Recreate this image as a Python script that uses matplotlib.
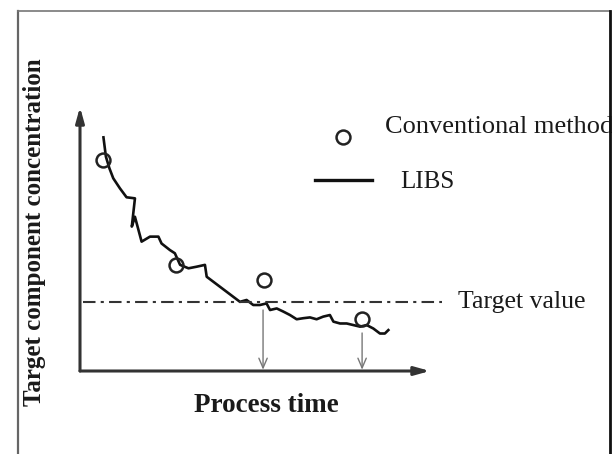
import matplotlib
matplotlib.use("Agg")
import matplotlib.pyplot as plt
from matplotlib.lines import Line2D

plt.rcParams["font.family"] = ["Liberation Serif", "DejaVu Serif"]

# LIBS trace (process time, concentration)
libs_time = [0.67, 0.74, 0.84, 0.95, 1.14, 1.33, 1.57, 1.48, 1.57, 1.76, 2.00,
             2.24, 2.33, 2.57, 2.71, 2.86, 3.10, 3.33, 3.57, 3.62, 3.81, 4.00,
             4.19, 4.38, 4.57, 4.76, 4.95, 5.14, 5.33, 5.43, 5.62, 5.81, 6.00,
             6.19, 6.38, 6.57, 6.76, 6.95, 7.14, 7.24, 7.43, 7.62, 7.81, 8.00,
             8.19, 8.38, 8.57, 8.71, 8.81]
libs_conc = [8.85, 8.12, 7.68, 7.30, 6.92, 6.58, 6.54, 5.47, 5.84, 4.90, 5.09,
             5.09, 4.83, 4.58, 4.46, 4.02, 3.89, 3.95, 4.02, 3.57, 3.38, 3.19,
             3.00, 2.81, 2.62, 2.69, 2.50, 2.50, 2.56, 2.31, 2.37, 2.25, 2.12,
             1.96, 2.00, 2.03, 1.96, 2.06, 2.12, 1.87, 1.80, 1.80, 1.74, 1.68,
             1.74, 1.61, 1.42, 1.42, 1.55]

# conventional method samples
conv_time = [0.67, 2.74, 5.27, 8.07]
conv_conc = [7.99, 4.02, 3.45, 1.96]

target_value = 2.62
# times where the target is reached (LIBS, conventional)
reach_time = [5.23, 8.06]
reach_from = [2.31, 1.44]

fig = plt.figure(figsize=(6.12, 4.54), dpi=100)
ax = fig.add_axes([80 / 612, 83 / 454, 350 / 612, 264 / 454])
ax.set_xlim(0, 10)
ax.set_ylim(0, 10)
ax.axis("off")

# axes with arrow heads
axis_color = "#333333"
ax.annotate("", xy=(10, 0), xytext=(0, 0),
            arrowprops=dict(arrowstyle="-|>,head_length=0.9,head_width=0.25",
                            color=axis_color, lw=2.2, shrinkA=0, shrinkB=0))
ax.annotate("", xy=(0, 10), xytext=(0, 0),
            arrowprops=dict(arrowstyle="-|>,head_length=0.9,head_width=0.25",
                            color=axis_color, lw=2.2, shrinkA=0, shrinkB=0))

ax.plot(libs_time, libs_conc, color="#111111", lw=1.9, clip_on=False)
ax.plot(conv_time, conv_conc, "o", ms=10, mfc="none", mec="#222222", mew=1.8,
        clip_on=False)

ax.plot([0.09, 10.35], [target_value, target_value], color="#333333", lw=1.5,
        ls=(0, (6, 2.5, 1.5, 2.5)), clip_on=False)

for t, c in zip(reach_time, reach_from):
    ax.annotate("", xy=(t, 0.05), xytext=(t, c),
                arrowprops=dict(arrowstyle="->,head_length=0.7,head_width=0.3",
                                color="#777777", lw=1.0, shrinkA=0, shrinkB=0))

# legend drawn by hand like the original
ax.plot([7.52], [8.87], "o", ms=10, mfc="none", mec="#222222", mew=1.8,
        clip_on=False)
ax.text(8.71, 9.24, "Conventional method", fontsize=19, va="center",
        ha="left", color="#1a1a1a", clip_on=False)
ax.plot([6.71, 8.34], [7.23, 7.23], color="#111111", lw=2.4, clip_on=False)
ax.text(9.14, 7.16, "LIBS", fontsize=18, va="center", ha="left",
        color="#1a1a1a")
ax.text(10.8, target_value, "Target value", fontsize=18.5, va="center",
        ha="left", color="#1a1a1a")

fig.text(266 / 612, 1 - 405 / 454, "Process time", fontsize=19.5,
         fontweight="bold", ha="center", va="center", color="#1a1a1a")
fig.text(35 / 612, 1 - 232 / 454, "Target component concentration",
         fontsize=18, fontweight="bold", rotation=90, ha="center",
         va="center", color="#1a1a1a")

# frame around the figure
fig.add_artist(Line2D([17.5 / 612, 17.5 / 612], [0, 1 - 11 / 454],
                      transform=fig.transFigure, color="#666666", lw=1.6))
fig.add_artist(Line2D([17.5 / 612, 610 / 612], [1 - 11 / 454, 1 - 11 / 454],
                      transform=fig.transFigure, color="#777777", lw=1.2))
fig.add_artist(Line2D([610 / 612, 610 / 612], [0, 1 - 11 / 454],
                      transform=fig.transFigure, color="#111111", lw=2.0))

fig.savefig("out.png", dpi=100)
